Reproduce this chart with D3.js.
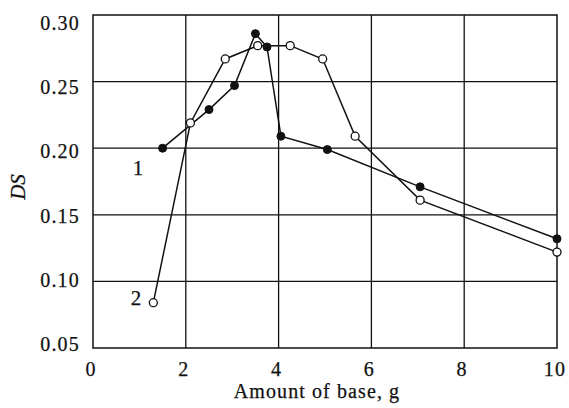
<!DOCTYPE html>
<html>
<head>
<meta charset="utf-8">
<script src="https://cdn.jsdelivr.net/npm/d3@7"></script>
<style>
  html, body { margin: 0; padding: 0; background: #fff; }
  svg { display: block; }
</style>
</head>
<body>
<svg id="chart" width="569" height="408"></svg>
<script>
// Degree of substitution vs amount of base, two series
const series1X = [1.5, 2.5, 3.05, 3.5, 3.75, 4.05, 5.05, 7.05, 10];
const series1Y = [0.200, 0.229, 0.247, 0.286, 0.276, 0.209, 0.199, 0.171, 0.132];
const series2X = [1.3, 2.1, 2.85, 3.55, 4.25, 4.95, 5.65, 7.05, 10];
const series2Y = [0.084, 0.219, 0.267, 0.277, 0.277, 0.267, 0.209, 0.161, 0.122];

const xTicks = [0, 2, 4, 6, 8, 10];
const yTicks = [0.05, 0.10, 0.15, 0.20, 0.25, 0.30];
const xTickLabels = ["0", "2", "4", "6", "8", "10"];
const yTickLabels = ["0.05", "0.10", "0.15", "0.20", "0.25", "0.30"];

const xTitle = "Amount of base, g";
const yTitle = "DS";
const curveLabels = ["1", "2"];

const FONT = "'Liberation Serif', 'DejaVu Serif', 'Times New Roman', serif";

const svg = d3.select("#chart");
const margin = { left: 93, right: 12, top: 15, bottom: 60 };
const W = 569, H = 408;

const x = d3.scaleLinear().domain([0, 10]).range([margin.left, W - margin.right]);
const y = d3.scaleLinear().domain([0.05, 0.30]).range([H - margin.bottom, margin.top]);
// tick labels on the value axis sit on a slightly tighter ladder than the grid
const yLab = d3.scaleLinear().domain([0.05, 0.30]).range([344, 23]);

const ink = "#111";

// grid
const grid = svg.append("g");
grid.selectAll("line.vx").data(xTicks.slice(1, -1)).enter().append("line")
  .attr("x1", d => x(d)).attr("x2", d => x(d))
  .attr("y1", y(0.05)).attr("y2", y(0.30))
  .attr("stroke", ink).attr("stroke-width", 1.3);
grid.selectAll("line.hy").data(yTicks.slice(1, -1)).enter().append("line")
  .attr("x1", x(0)).attr("x2", x(10))
  .attr("y1", d => y(d)).attr("y2", d => y(d))
  .attr("stroke", ink).attr("stroke-width", 1.3);

// frame
svg.append("rect")
  .attr("x", x(0)).attr("y", y(0.30))
  .attr("width", x(10) - x(0)).attr("height", y(0.05) - y(0.30))
  .attr("fill", "none").attr("stroke", ink).attr("stroke-width", 1.5);

function txt(sel) {
  return sel.attr("font-family", FONT).attr("fill", ink)
    .attr("stroke", ink).attr("stroke-width", 0.25);
}

// tick labels
txt(svg.append("g").selectAll("text").data(yTicks).enter().append("text"))
  .attr("x", x(0) - 13).attr("y", d => yLab(d))
  .attr("dy", "0.35em")
  .attr("text-anchor", "end")
  .attr("font-size", 20).attr("letter-spacing", 1.2)
  .text((d, i) => yTickLabels[i]);

txt(svg.append("g").selectAll("text").data(xTicks).enter().append("text"))
  .attr("x", d => x(d) - 2).attr("y", 375.5)
  .attr("text-anchor", "middle")
  .attr("font-size", 20).attr("letter-spacing", 1.2)
  .text((d, i) => xTickLabels[i]);

// axis titles
txt(svg.append("text"))
  .attr("x", 317).attr("y", 397.5)
  .attr("text-anchor", "middle")
  .attr("font-size", 20).attr("letter-spacing", 1.1)
  .text(xTitle);

txt(svg.append("text"))
  .attr("transform", "translate(25,187) rotate(-90)")
  .attr("text-anchor", "middle")
  .attr("font-size", 21).attr("font-style", "italic")
  .text(yTitle);

// lines
const line = d3.line().x(d => x(d[0])).y(d => y(d[1]));
const pts1 = series1X.map((v, i) => [v, series1Y[i]]);
const pts2 = series2X.map((v, i) => [v, series2Y[i]]);

svg.append("path").datum(pts1).attr("d", line)
  .attr("fill", "none").attr("stroke", ink).attr("stroke-width", 1.5);
svg.append("path").datum(pts2).attr("d", line)
  .attr("fill", "none").attr("stroke", ink).attr("stroke-width", 1.5);

// markers
svg.append("g").selectAll("circle").data(pts1).enter().append("circle")
  .attr("cx", d => x(d[0])).attr("cy", d => y(d[1])).attr("r", 4)
  .attr("fill", ink).attr("stroke", ink).attr("stroke-width", 1);
svg.append("g").selectAll("circle").data(pts2).enter().append("circle")
  .attr("cx", d => x(d[0])).attr("cy", d => y(d[1])).attr("r", 4)
  .attr("fill", "#fff").attr("stroke", ink).attr("stroke-width", 1.3);

// curve numbers
txt(svg.append("text")).attr("x", 138).attr("y", 175)
  .attr("text-anchor", "middle").attr("font-size", 21).text(curveLabels[0]);
txt(svg.append("text")).attr("x", 136).attr("y", 305)
  .attr("text-anchor", "middle").attr("font-size", 21).text(curveLabels[1]);
</script>
</body>
</html>
